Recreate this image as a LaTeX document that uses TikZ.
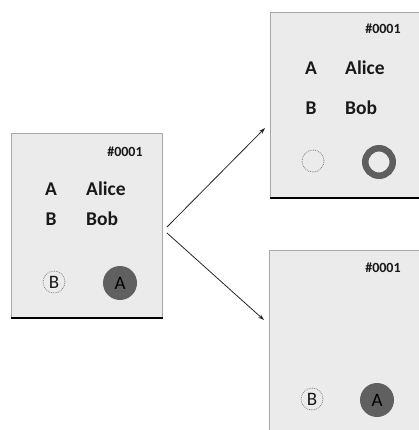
\documentclass[tikz,border=0pt]{standalone}
\usepackage{fontspec}
\setmainfont{Carlito}
\usetikzlibrary{arrows.meta}
\definecolor{cardfill}{HTML}{EBEBEB}
\definecolor{cardline}{HTML}{A8A8A8}
\definecolor{darkdisc}{HTML}{606060}
\definecolor{ringcol}{HTML}{5E5E5E}
\tikzset{
  card/.style={draw=cardline, line width=0.8pt, fill=cardfill, rectangle, inner sep=0pt},
  bigtxt/.style={font=\bfseries\fontsize{19.5}{22}\selectfont, text=black!90, inner sep=0pt},
  idtxt/.style={font=\bfseries\fontsize{14}{16}\selectfont, text=black!90, inner sep=0pt},
  hollow/.style={circle, draw=gray, densely dotted, line width=0.8pt, inner sep=0pt, minimum size=22pt, font=\fontsize{19}{20}\selectfont, text=black!90},
  disc/.style={circle, fill=darkdisc, inner sep=0pt, minimum size=34pt, font=\fontsize{19}{20}\selectfont, text=black},
  ring/.style={circle, draw=ringcol, line width=6.5pt, inner sep=0pt, minimum size=27.5pt},
  base/.style={line width=2.6pt, black},
  conn/.style={-{Stealth[length=6pt,width=4pt]}, line width=0.8pt, black!85}
}
\begin{document}
\begin{tikzpicture}[x=1pt,y=-1pt]
\useasboundingbox (0,0) rectangle (419,430);
% left card
\node[card, minimum width=151pt, minimum height=184pt, anchor=north west] (L) at (11,133) {};
\draw[base] (L.south west) -- (L.south east);
\node[idtxt] (L0) at (125,152) {\#0001};
\node[bigtxt] (LA) at (51,189) {A};
\node[bigtxt, anchor=west] (LAl) at (86,189) {Alice};
\node[bigtxt] (LB) at (51,219) {B};
\node[bigtxt, anchor=west] (LBo) at (86,219) {Bob};
\node[hollow] (LcB) at (54,282) {B};
\node[disc] (LcA) at (120,283) {A};
% top right card
\node[card, minimum width=160pt, minimum height=185pt, anchor=north west] (T) at (270,12) {};
\draw[base] (T.south west) -- (T.south east);
\node[idtxt] (T0) at (383,29) {\#0001};
\node[bigtxt] (TA) at (311,68) {A};
\node[bigtxt, anchor=west] (TAl) at (345,68) {Alice};
\node[bigtxt] (TB) at (311,108) {B};
\node[bigtxt, anchor=west] (TBo) at (345,108) {Bob};
\node[hollow] (Tc1) at (313,161) {};
\node[ring] (Tc2) at (379,162) {};
% bottom right card
\node[card, minimum width=160pt, minimum height=200pt, anchor=north west] (R) at (269,250) {};
\node[idtxt] (R0) at (383,268) {\#0001};
\node[hollow] (RcB) at (312,399) {B};
\node[disc] (RcA) at (377,400) {A};
% connectors
\coordinate (s1) at (167,227);
\coordinate (e1) at (265,128);
\coordinate (s2) at (167,233);
\coordinate (e2) at (264,320);
\draw[conn] (s1) -- (e1);
\draw[conn] (s2) -- (e2);
\end{tikzpicture}
\end{document}
